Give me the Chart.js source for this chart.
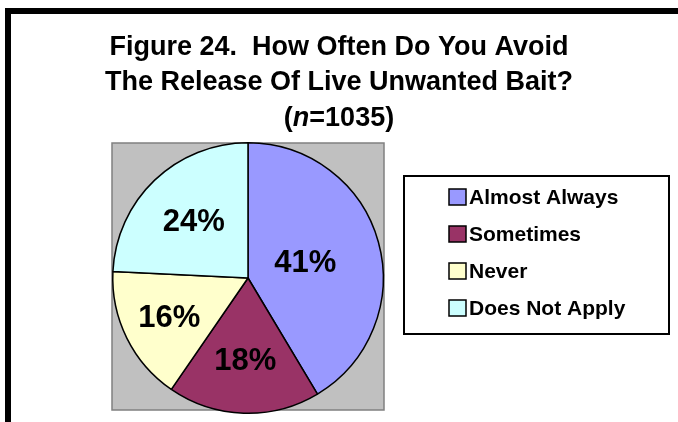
<!DOCTYPE html>
<html>
<head>
<meta charset="utf-8">
<title>Figure 24</title>
<script src="https://cdn.jsdelivr.net/npm/chart.js@4.4.1/dist/chart.umd.min.js"></script>
<style>
  html, body { margin: 0; padding: 0; background: #fff; }
  #wrap { width: 678px; height: 422px; }
</style>
</head>
<body>
<div id="wrap"><canvas id="baitChart" width="678" height="422"></canvas></div>
<script>
const answers = ['Almost Always', 'Sometimes', 'Never', 'Does Not Apply'];
const percents = [41, 18, 16, 24];
const sliceColors = ['#9999FF', '#993366', '#FFFFCC', '#CCFFFF'];
const titleLines = ['Figure 24.  How Often Do You Avoid', 'The Release Of Live Unwanted Bait?'];
const sampleSize = 1035;

const FONT = "'Liberation Sans', Arial, Helvetica, sans-serif";
const TITLE_SIZE = 27;

// black frame on top and left edge, like the scanned report page
const framePlugin = {
    id: 'frame',
    beforeDraw(chart) {
        const ctx = chart.ctx;
        ctx.save();
        ctx.fillStyle = '#fff';
        ctx.fillRect(0, 0, chart.width, chart.height);
        ctx.fillStyle = '#000';
        ctx.fillRect(5, 8, chart.width - 5, 6);
        ctx.fillRect(5, 8, 6, chart.height - 8);
        ctx.restore();
    }
};

// grey square behind the pie
const plotAreaPlugin = {
    id: 'plotArea',
    beforeDatasetsDraw(chart) {
        const { left, top, right, bottom } = chart.chartArea;
        const ctx = chart.ctx;
        ctx.save();
        ctx.fillStyle = '#C0C0C0';
        ctx.fillRect(left, top + 1, right - left, bottom - top - 5);
        ctx.strokeStyle = '#808080';
        ctx.lineWidth = 1.5;
        ctx.strokeRect(left, top + 1, right - left, bottom - top - 5);
        ctx.restore();
    }
};

const titlePlugin = {
    id: 'pageTitle',
    afterDraw(chart) {
        const ctx = chart.ctx;
        const cx = chart.width / 2;
        const bold = 'bold ' + TITLE_SIZE + 'px ' + FONT;
        ctx.save();
        ctx.fillStyle = '#000';
        ctx.textBaseline = 'alphabetic';
        ctx.textAlign = 'center';
        ctx.font = bold;
        ctx.fillText(titleLines[0], cx, 55);
        ctx.fillText(titleLines[1], cx, 90);

        // third line: (n=1035) with italic n
        const parts = [
            { t: '(', f: bold },
            { t: 'n', f: 'italic ' + bold },
            { t: '=' + sampleSize + ')', f: bold }
        ];
        let total = 0;
        parts.forEach(p => { ctx.font = p.f; p.w = ctx.measureText(p.t).width; total += p.w; });
        let x = cx - total / 2;
        ctx.textAlign = 'left';
        parts.forEach(p => { ctx.font = p.f; ctx.fillText(p.t, x, 126); x += p.w; });
        ctx.restore();
    }
};

const sliceLabelPlugin = {
    id: 'sliceLabels',
    afterDatasetsDraw(chart, args, opts) {
        const ctx = chart.ctx;
        const arcs = chart.getDatasetMeta(0).data;
        ctx.save();
        ctx.fillStyle = '#000';
        ctx.font = 'bold 31px ' + FONT;
        ctx.textAlign = 'center';
        ctx.textBaseline = 'middle';
        arcs.forEach((arc, i) => {
            const p = arc.getProps(['x', 'y', 'startAngle', 'endAngle', 'outerRadius'], true);
            const mid = (p.startAngle + p.endAngle) / 2;
            const r = p.outerRadius * opts.radii[i];
            ctx.fillText(percents[i] + '%', p.x + Math.cos(mid) * r, p.y + Math.sin(mid) * r + 1);
        });
        ctx.restore();
    }
};

const boxLegendPlugin = {
    id: 'boxLegend',
    afterDraw(chart, args, opts) {
        const ctx = chart.ctx;
        ctx.save();
        ctx.strokeStyle = '#000';
        ctx.lineWidth = 2;
        ctx.strokeRect(opts.x, opts.y, opts.w, opts.h);
        ctx.font = 'bold 21px ' + FONT;
        ctx.textBaseline = 'middle';
        ctx.textAlign = 'left';
        answers.forEach((label, i) => {
            const cy = opts.firstRow + i * opts.rowGap;
            ctx.fillStyle = sliceColors[i];
            ctx.fillRect(opts.swatchX, cy - 8, 17, 16);
            ctx.strokeStyle = '#000';
            ctx.lineWidth = 1.5;
            ctx.strokeRect(opts.swatchX, cy - 8, 17, 16);
            ctx.fillStyle = '#000';
            ctx.fillText(label, opts.swatchX + 20, cy + 1);
        });
        ctx.restore();
    }
};

//eslint-disable-next-line
const baitChart = new Chart(document.getElementById('baitChart'), {
    type: 'pie',
    data: {
        labels: answers,
        datasets: [{
            data: percents,
            backgroundColor: sliceColors,
            borderColor: '#000',
            borderWidth: 1.5
        }]
    },
    options: {
        responsive: false,
        animation: false,
        events: [],
        layout: { padding: { left: 112, right: 294, top: 142, bottom: 8 } },
        plugins: {
            legend: { display: false },
            title: { display: false },
            tooltip: { enabled: false },
            sliceLabels: { radii: [0.44, 0.61, 0.65, 0.58] },
            boxLegend: { x: 404, y: 176, w: 265, h: 158, firstRow: 197, rowGap: 37, swatchX: 449 }
        }
    },
    plugins: [framePlugin, plotAreaPlugin, sliceLabelPlugin, titlePlugin, boxLegendPlugin]
});
</script>
</body>
</html>
